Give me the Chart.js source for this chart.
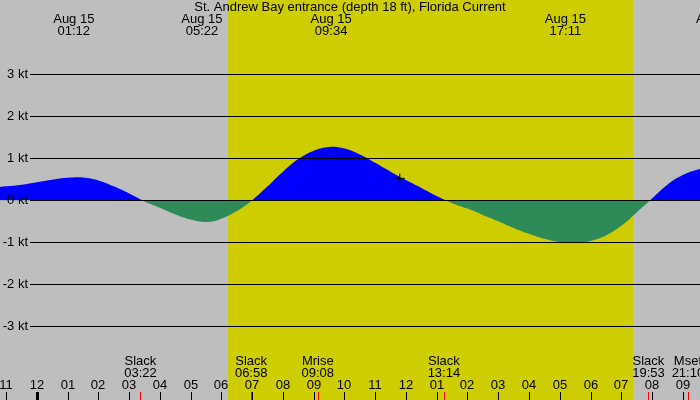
<!DOCTYPE html>
<html lang="en">
  <head>
    <meta charset="utf-8">
    <title>St. Andrew Bay entrance current</title>
    <script src="https://cdn.jsdelivr.net/npm/chart.js@4.4.1/dist/chart.umd.min.js"></script>
    <style>
      body { margin: 0; background: #bebebe; }
      canvas { display: block; }
    </style>
  </head>
  <body>
    <canvas id="tide-chart" width="700" height="400"></canvas>

    <script>
    // hours since midnight Aug 15 and current speed in knots
    var hours = [-1.5, -1, -0.5, 0, 0.5, 1, 1.5, 2, 2.5, 3, 3.5, 4, 4.5, 5, 5.5, 6, 6.5, 7, 7.5, 8, 8.5, 9, 9.5, 10,
                 10.5, 11, 11.5, 12, 12.5, 13, 13.5, 14, 14.5, 15, 15.5, 16, 16.5, 17, 17.5, 18, 18.5, 19, 19.5, 20,
                 20.5, 21, 21.5, 22];
    var speed = [0.3, 0.33, 0.37, 0.43, 0.49, 0.535, 0.54, 0.47, 0.33, 0.16, -0.03, -0.18, -0.34, -0.46, -0.52, -0.44,
                 -0.26, 0.0, 0.33, 0.68, 0.98, 1.18, 1.27, 1.23, 1.09, 0.89, 0.68, 0.48, 0.29, 0.1, -0.07, -0.2,
                 -0.35, -0.5, -0.66, -0.8, -0.92, -1.0, -1.02, -0.97, -0.84, -0.61, -0.29, 0.04, 0.37, 0.6, 0.73, 0.8];

    var yTicks = [3, 2, 1, 0, -1, -2, -3];
    var hourTicks = [-1, 0, 1, 2, 3, 4, 5, 6, 7, 8, 9, 10, 11, 12, 13, 14, 15, 16, 17, 18, 19, 20, 21];
    var hourLabels = ["11", "12", "01", "02", "03", "04", "05", "06", "07", "08", "09", "10", "11",
                      "12", "01", "02", "03", "04", "05", "06", "07", "08", "09"];

    // max current events along the top
    var maxTimes = ["01:12", "05:22", "09:34", "17:11", "22:06"];
    var maxDate = "Aug 15";

    // slack / moon events along the bottom
    var eventNames = ["Slack", "Slack", "Mrise", "Slack", "Slack", "Mset"];
    var eventTimes = ["03:22", "06:58", "09:08", "13:14", "19:53", "21:10"];

    var sunrise = "06:13";
    var sunset = "19:23";
    var nowPoint = [11.8, 0.52];

    var titulo = "St. Andrew Bay entrance (depth 18 ft), Florida Current";

    function hm(s) {
      var p = s.split(":");
      return parseInt(p[0], 10) + parseInt(p[1], 10) / 60;
    }

    var FONT = "13px 'Liberation Sans', Arial, sans-serif";

    var fondo = {
      id: "fondo",
      beforeDraw: function (chart) {
        var c = chart.ctx, x = chart.scales.x;
        c.save();
        c.fillStyle = "#bebebe";
        c.fillRect(0, 0, chart.width, chart.height);
        var x1 = x.getPixelForValue(hm(sunrise));
        var x2 = x.getPixelForValue(hm(sunset));
        c.fillStyle = "#cdcd00";
        c.fillRect(x1, 0, x2 - x1, chart.height);
        c.restore();
      }
    };

    var textos = {
      id: "textos",
      afterDatasetsDraw: function (chart) {
        var c = chart.ctx, x = chart.scales.x, y = chart.scales.y;
        c.save();
        c.font = FONT;
        c.fillStyle = "#000";
        c.strokeStyle = "#000";
        c.lineWidth = 1;

        // horizontal grid + kt labels
        yTicks.forEach(function (v) {
          var py = Math.round(y.getPixelForValue(v)) + 0.5;
          c.beginPath();
          c.moveTo(30, py);
          c.lineTo(chart.width, py);
          c.stroke();
          c.textAlign = "right";
          c.textBaseline = "middle";
          c.fillText(v + " kt", 28, py);
        });

        // title and max current labels
        c.textAlign = "center";
        c.textBaseline = "middle";
        c.fillText(titulo, chart.width / 2, 7);
        maxTimes.forEach(function (t) {
          var px = x.getPixelForValue(hm(t));
          c.fillText(maxDate, px, 19);
          c.fillText(t, px, 31);
        });

        // bottom events
        eventNames.forEach(function (n, i) {
          var px = x.getPixelForValue(hm(eventTimes[i]));
          c.fillText(n, px, 361);
          c.fillText(eventTimes[i], px, 373);
        });

        // hour ticks
        hourTicks.forEach(function (h, i) {
          var px = Math.round(x.getPixelForValue(h));
          c.fillText(hourLabels[i], px, 385);
          if (h === 0) {
            c.fillRect(px - 1, 392, 3, 8);
          } else {
            c.fillRect(px, 392, 1, 8);
          }
        });

        // red event ticks
        c.fillStyle = "#ff0000";
        eventTimes.forEach(function (t) {
          var px = Math.round(x.getPixelForValue(hm(t)));
          c.fillRect(px, 392, 1, 8);
        });
        c.restore();
      }
    };

    var puntos = hours.map(function (h, i) { return { x: h, y: speed[i] }; });

    new Chart(document.getElementById("tide-chart"), {
      type: "line",
      data: {
        datasets: [
          {
            label: "ahora",
            type: "scatter",
            data: [{ x: nowPoint[0], y: nowPoint[1] }],
            pointStyle: "cross",
            pointRadius: 5,
            borderColor: "#000",
            borderWidth: 1,
            order: 0
          },
          {
            label: "Current",
            data: puntos,
            borderWidth: 0,
            borderColor: "rgba(0,0,0,0)",
            pointRadius: 0,
            tension: 0.4,
            fill: { target: { value: 0 }, above: "#0000ff", below: "#2e8b57" },
            order: 1
          }
        ]
      },
      options: {
        responsive: false,
        animation: false,
        layout: { padding: 0, autoPadding: false },
        plugins: { legend: { display: false }, tooltip: { enabled: false } },
        scales: {
          x: { type: "linear", min: -1.2, max: 21.56, display: false },
          y: { min: -4.76, max: 4.77, display: false }
        }
      },
      plugins: [fondo, textos]
    });
    </script>
  </body>
</html>
